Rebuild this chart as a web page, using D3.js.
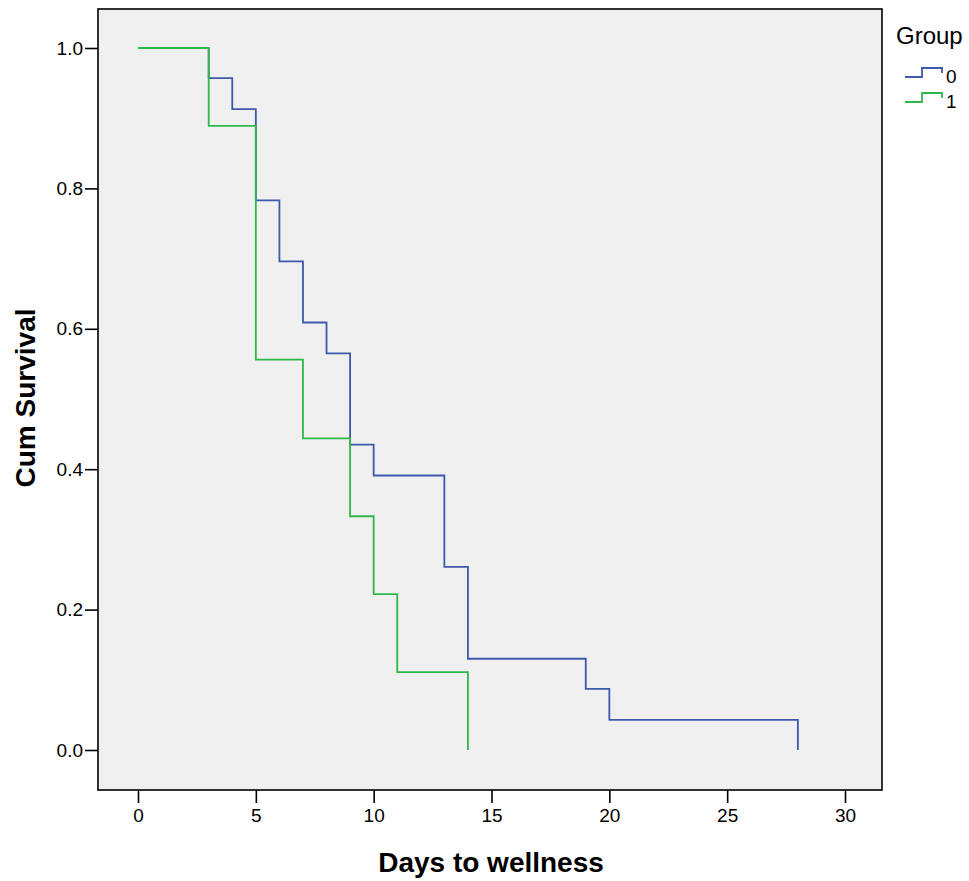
<!DOCTYPE html>
<html>
<head>
<meta charset="utf-8">
<script src="https://cdn.jsdelivr.net/npm/d3@7"></script>
<style>
  body { margin: 0; background: #fff; }
  svg { display: block; font-family: "Liberation Sans", Arial, sans-serif; }
</style>
</head>
<body>
<div id="chart"></div>
<script>
// Kaplan-Meier step data
const groups = ['0', '1'];
const colors = ['#3e58ac', '#2eb848'];
const times0 = [0, 3, 4, 5, 6, 7, 8, 9, 10, 13, 14, 19, 20, 28];
const surv0 = [1, 0.957, 0.913, 0.783, 0.696, 0.609, 0.565, 0.435, 0.391, 0.261, 0.130, 0.087, 0.043, 0];
const times1 = [0, 3, 5, 7, 9, 10, 11, 14];
const surv1 = [1, 0.889, 0.556, 0.444, 0.333, 0.222, 0.111, 0];
const xTicks = [0, 5, 10, 15, 20, 25, 30];
const yTicks = [0, 0.2, 0.4, 0.6, 0.8, 1.0];

const width = 969, height = 881;
const frame = { left: 98, right: 882, top: 9, bottom: 790 };
const fontFamily = '"Liberation Sans", Arial, sans-serif';

const svg = d3.select('#chart').append('svg')
  .attr('width', width)
  .attr('height', height);

const x = d3.scaleLinear().domain([0, 30]).range([138, 845]);
const y = d3.scaleLinear().domain([0, 1]).range([750, 48]);

// plot background
svg.append('rect')
  .attr('x', frame.left)
  .attr('y', frame.top)
  .attr('width', frame.right - frame.left)
  .attr('height', frame.bottom - frame.top)
  .attr('fill', '#f0f0f0');

// curves
const line = d3.line()
  .x(d => x(d[0]))
  .y(d => y(d[1]))
  .curve(d3.curveStepAfter);

const series = [
  d3.zip(times0, surv0),
  d3.zip(times1, surv1)
];

series.forEach((pts, i) => {
  svg.append('path')
    .datum(pts)
    .attr('d', line)
    .attr('fill', 'none')
    .attr('stroke', colors[i])
    .attr('stroke-width', 1.8);
});

// frame
svg.append('rect')
  .attr('x', frame.left)
  .attr('y', frame.top)
  .attr('width', frame.right - frame.left)
  .attr('height', frame.bottom - frame.top)
  .attr('fill', 'none')
  .attr('stroke', '#000')
  .attr('stroke-width', 1.6);

// x axis
const xAxis = svg.append('g')
  .attr('transform', `translate(0, ${frame.bottom})`)
  .call(d3.axisBottom(x).tickValues(xTicks).tickSize(13).tickPadding(6).tickFormat(d3.format('d')))
  .attr('font-size', 19)
  .attr('font-family', fontFamily);
xAxis.select('.domain').remove();
xAxis.selectAll('line').attr('stroke', '#000').attr('stroke-width', 1.6);
xAxis.selectAll('text').attr('fill', '#000');

// y axis
const yAxis = svg.append('g')
  .attr('transform', `translate(${frame.left}, 0)`)
  .call(d3.axisLeft(y).tickValues(yTicks).tickSize(13).tickPadding(2).tickFormat(d3.format('.1f')))
  .attr('font-size', 19)
  .attr('font-family', fontFamily);
yAxis.select('.domain').remove();
yAxis.selectAll('line').attr('stroke', '#000').attr('stroke-width', 1.6);
yAxis.selectAll('text').attr('fill', '#000');

// axis titles
svg.append('text')
  .attr('x', 491)
  .attr('y', 872)
  .attr('text-anchor', 'middle')
  .style('font-size', '28px')
  .attr('font-weight', 'bold')
  .text('Days to wellness');

svg.append('text')
  .attr('transform', 'translate(35, 398) rotate(-90)')
  .attr('text-anchor', 'middle')
  .style('font-size', '28px')
  .attr('font-weight', 'bold')
  .text('Cum Survival');

// legend
const legend = svg.append('g').attr('transform', 'translate(896, 0)');
legend.append('text')
  .attr('x', 0)
  .attr('y', 44)
  .style('font-size', '24px')
  .text('Group');

groups.forEach((g, i) => {
  const oy = 77 + i * 25;
  legend.append('path')
    .attr('d', `M9,${oy}H26V${oy - 9}H46V${oy - 4}`)
    .attr('fill', 'none')
    .attr('stroke', colors[i])
    .attr('stroke-width', 1.8);
  legend.append('text')
    .attr('x', 50)
    .attr('y', oy + 6)
    .style('font-size', '19px')
    .text(g);
});
</script>
</body>
</html>
